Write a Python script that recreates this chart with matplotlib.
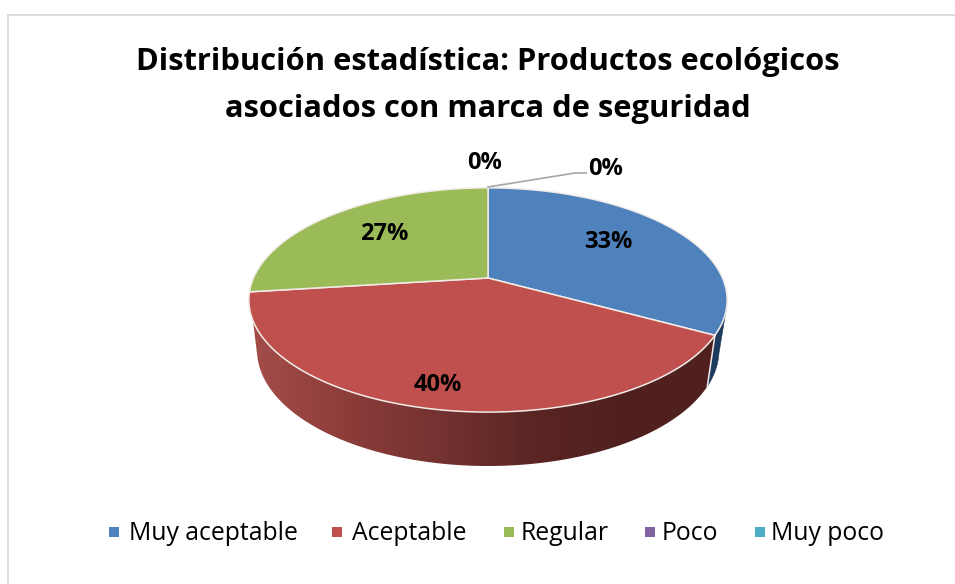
#!/usr/bin/env python3
"""Pastel 3D: productos ecologicos asociados con marca de seguridad."""

import numpy as np
import matplotlib
matplotlib.use("Agg")
import matplotlib.pyplot as plt
from matplotlib.colors import LinearSegmentedColormap
from matplotlib.patches import Polygon, Rectangle

# ── Datos ────────────────────────────────────────────────────────────────────
CATEGORIES = ["Muy aceptable", "Aceptable", "Regular", "Poco", "Muy poco"]
VALUES = [33, 40, 27, 0, 0]

TITLE_LINES = ["Distribución estadística: Productos ecológicos",
               "asociados con marca de seguridad"]

# ── Paleta ───────────────────────────────────────────────────────────────────
COLORS = ["#4f81bd", "#c0504d", "#9bbb59", "#8064a2", "#4bacc6"]
WALL_BLUE = "#1d3b5e"
WALL_RED = LinearSegmentedColormap.from_list(
    "wall", ["#a54e4b", "#8d3d3a", "#743230", "#5a2523", "#4f201e", "#4f201e"])
EDGE = "#f2ece8"
FRAME = "#d9d9d9"

# ── Geometria (pixeles) ──────────────────────────────────────────────────────
W, H = 955, 584
CX, CY = 488, 278
B, A, K = 234.5, 107.8, 0.196
TOP_RX = 239
BOT_CY, BOT_RX, BOT_RY = 350, 231, 116
TITLE_Y = [62, 109]
LABEL_POS = [(608, 242), (438, 385), (384, 234), (485, 163), (606, 169)]
LEGEND_SWATCH_X = [109, 332, 504, 645, 755]
LEGEND_TEXT_X = [129, 352, 521, 662, 771]
LEGEND_Y = 532

plt.rcParams["font.family"] = ["Open Sans", "DejaVu Sans"]


def top_point(theta):
    """Angulo en grados desde arriba, en sentido horario, al plano de la imagen."""
    t = np.radians(theta)
    x_, y_ = np.sin(t), np.cos(t)
    den = 1 + K * y_
    return CX + B * x_ / den, CY - A * y_ / den


def bottom_point(theta):
    px, _ = top_point(theta)
    x = CX + (px - CX) * BOT_RX / TOP_RX
    u = np.clip((x - CX) / BOT_RX, -1, 1)
    return x, BOT_CY + BOT_RY * np.sqrt(1 - u ** 2)


def arc(theta0, theta1, n=120):
    return np.linspace(theta0, theta1, n)


def wall_outline(theta0, theta1):
    ts = arc(theta0, theta1, 200)
    xt, yt = top_point(ts)
    xb, yb = bottom_point(ts[::-1])
    return np.c_[np.r_[xt, xb], np.r_[yt, yb]]


fig = plt.figure(figsize=(W / 100, H / 100), dpi=100, facecolor="white")
ax = fig.add_axes([0, 0, 1, 1])

# marco del grafico
ax.plot([8, 8], [15, 584], color=FRAME, lw=1.3)
ax.plot([8, 955], [15, 15], color=FRAME, lw=1.3)

for line, y in zip(TITLE_LINES, TITLE_Y):
    ax.text(488, y, line, ha="center", va="center", fontsize=22.2,
            fontweight="bold", color="black")

edges = np.cumsum([0] + VALUES) / sum(VALUES) * 360

# pared lateral azul y pared roja con degradado de izquierda a derecha
ax.add_patch(Polygon(wall_outline(104, edges[1]), closed=True, fc=WALL_BLUE, ec=WALL_BLUE, lw=0.4))
red_wall = Polygon(wall_outline(edges[1], edges[2]), closed=True, fc="none", ec="none")
ax.add_patch(red_wall)
gradient = np.linspace(0, 1, 256)[None, :]
im = ax.imshow(gradient, cmap=WALL_RED, extent=(CX - BOT_RX - 10, CX + BOT_RX + 10, 480, 280),
               aspect="auto", zorder=1.5)
im.set_clip_path(red_wall)

# union entre paredes
xa, ya = top_point(edges[1])
xb, yb = bottom_point(edges[1])
ax.plot([xa, xb], [ya, yb], color=EDGE, lw=1.1, zorder=2)

# cara superior
for i, color in enumerate(COLORS):
    if VALUES[i] == 0:
        continue
    xs, ys = top_point(arc(edges[i], edges[i + 1]))
    ax.add_patch(Polygon(np.r_[[[CX, CY]], np.c_[xs, ys]], closed=True,
                         fc=color, ec=EDGE, lw=1.1, joinstyle="round", zorder=2.5))

# linea guia del 0%
ax.plot([488, 575, 586], [187, 173, 173], color="#a6a6a6", lw=1.2, zorder=3)

for value, (x, y) in zip(VALUES, LABEL_POS):
    ax.text(x, y, f"{value}%", ha="center", va="center", fontsize=17,
            fontweight="bold", color="black", zorder=4)

# leyenda
for name, color, sx, tx in zip(CATEGORIES, COLORS, LEGEND_SWATCH_X, LEGEND_TEXT_X):
    ax.add_patch(Rectangle((sx, LEGEND_Y - 5), 10, 10, fc=color, ec="none"))
    ax.text(tx, LEGEND_Y + 1, name, ha="left", va="center", fontsize=17.8, color="black")

ax.set_xlim(0, W)
ax.set_ylim(H, 0)
ax.axis("off")

fig.savefig("out.png", dpi=100, facecolor="white")
